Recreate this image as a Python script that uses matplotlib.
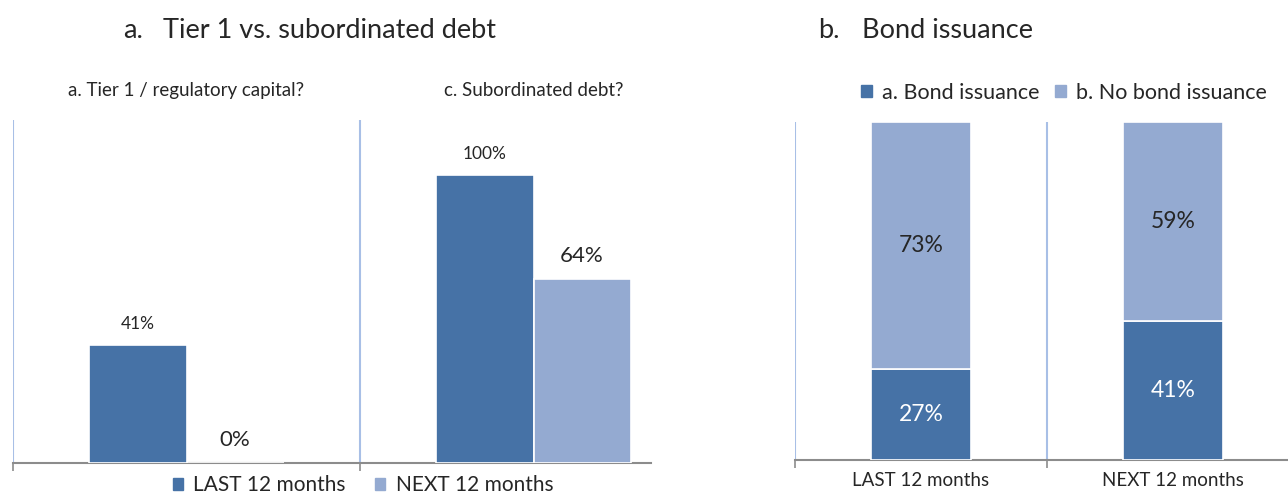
import matplotlib.pyplot as plt
from matplotlib.patches import Patch
from matplotlib.transforms import blended_transform_factory
import numpy as np

plt.rcParams['font.family'] = ['Lato', 'DejaVu Sans']

# data
groups = ["a. Tier 1 / regulatory capital?", "c. Subordinated debt?"]
last_12 = [41, 100]
next_12 = [0, 64]

periods = ["LAST 12 months", "NEXT 12 months"]
bond = [27, 41]
no_bond = [73, 59]

dark = '#4672A6'
light = '#94AAD1'
grid_c = '#A8BFE6'
axis_c = '#8C8C8C'
text_c = '#262626'

W, H = 1288, 495
fig = plt.figure(figsize=(W / 100, H / 100), dpi=100)


def px_axes(x0, y_top, x1, y_base):
    return fig.add_axes([x0 / W, (H - y_base) / H, (x1 - x0) / W, (y_base - y_top) / H])


def style_axes(ax):
    for s in ['top', 'right', 'left']:
        ax.spines[s].set_visible(False)
    ax.spines['bottom'].set_color(axis_c)
    ax.spines['bottom'].set_linewidth(1.5)
    ax.set_yticks([])
    ax.tick_params(axis='x', length=6, width=1.2, color=axis_c, labelsize=14,
                   labelcolor=text_c, pad=8)


# ---- panel a: grouped bars
ax1 = px_axes(13, 120, 651, 463)
x = np.arange(len(groups))
w = 0.28
b1 = ax1.bar(x - 0.14, last_12, w, color=dark, edgecolor='white', linewidth=1.2, zorder=3)
b2 = ax1.bar(x + 0.14, next_12, w, color=light, edgecolor='white', linewidth=1.2, zorder=3)
ax1.set_xlim(-0.5, 1.5 - (707 - 651) / 347)
ax1.set_ylim(0, 119)
for gx in [-0.5, 0.5]:
    ax1.axvline(gx, color=grid_c, lw=1.5, zorder=1)
style_axes(ax1)
ax1.set_xticks([-0.5, 0.5])
ax1.set_xticklabels(['', ''])

for rect, v in zip(b1, last_12):
    ax1.annotate(f"{v}%", (rect.get_x() + rect.get_width() / 2, v), xytext=(0, 21),
                 textcoords='offset pixels', ha='center', va='center', fontsize=12.5, color=text_c)
for rect, v in zip(b2, next_12):
    ax1.annotate(f"{v}%", (rect.get_x() + rect.get_width() / 2, v), xytext=(0, 23),
                 textcoords='offset pixels', ha='center', va='center', fontsize=16, color=text_c)

tr = blended_transform_factory(ax1.transData, fig.transFigure)
for gx, g in zip(x, groups):
    fig.text(gx, 1 - 90 / H, g, transform=tr, ha='center', va='center', fontsize=13.5, color=text_c)

fig.legend(handles=[Patch(color=dark, label='LAST 12 months'),
                    Patch(color=light, label='NEXT 12 months')],
           loc='center', bbox_to_anchor=(363 / W, 1 - 485 / H), ncol=2, frameon=False,
           fontsize=15, handlelength=0.5, handleheight=0.5, handletextpad=0.5,
           columnspacing=1.4, labelcolor=text_c)

# ---- panel b: stacked bars
ax2 = px_axes(795, 122, 1288, 460)
xp = np.arange(len(periods))
wb = 0.4
s1 = ax2.bar(xp, bond, wb, color=dark, edgecolor='white', linewidth=1.2, zorder=3)
s2 = ax2.bar(xp, no_bond, wb, bottom=bond, color=light, edgecolor='white', linewidth=1.2, zorder=3)
ax2.set_xlim(-0.5, 1.5 - (1299 - 1288) / 252)
ax2.set_ylim(0, 100)
for gx in [-0.5, 0.5]:
    ax2.axvline(gx, color=grid_c, lw=1.5, zorder=1)
style_axes(ax2)
ax2.set_xticks([-0.5, 0.5], minor=False)
ax2.set_xticklabels(['', ''])
ax2.set_xticks(xp, minor=True)
ax2.set_xticklabels(periods, minor=True)
ax2.tick_params(axis='x', which='minor', length=0, labelsize=13.5, labelcolor=text_c, pad=9)

for i in range(len(periods)):
    ax2.text(xp[i], bond[i] / 2, f"{bond[i]}%", ha='center', va='center', fontsize=16.5, color='white', zorder=4)
    ax2.text(xp[i], bond[i] + no_bond[i] / 2, f"{no_bond[i]}%", ha='center', va='center',
             fontsize=16.5, color=text_c, zorder=4)

fig.legend(handles=[Patch(color=dark, label='a. Bond issuance'),
                    Patch(color=light, label='b. No bond issuance')],
           loc='center', bbox_to_anchor=(1064 / W, 1 - 93 / H), ncol=2, frameon=False,
           fontsize=15.5, handlelength=0.5, handleheight=0.5, handletextpad=0.5,
           columnspacing=0.7, labelcolor=text_c)

# ---- titles
fig.text(123 / W, 1 - 30 / H, "a.", ha='left', va='center', fontsize=19.5, color=text_c)
fig.text(163 / W, 1 - 30 / H, "Tier 1 vs. subordinated debt", ha='left', va='center', fontsize=19.5, color=text_c)
fig.text(818 / W, 1 - 30 / H, "b.", ha='left', va='center', fontsize=19.5, color=text_c)
fig.text(862 / W, 1 - 30 / H, "Bond issuance", ha='left', va='center', fontsize=19.5, color=text_c)

fig.savefig('out.png', dpi=100)
